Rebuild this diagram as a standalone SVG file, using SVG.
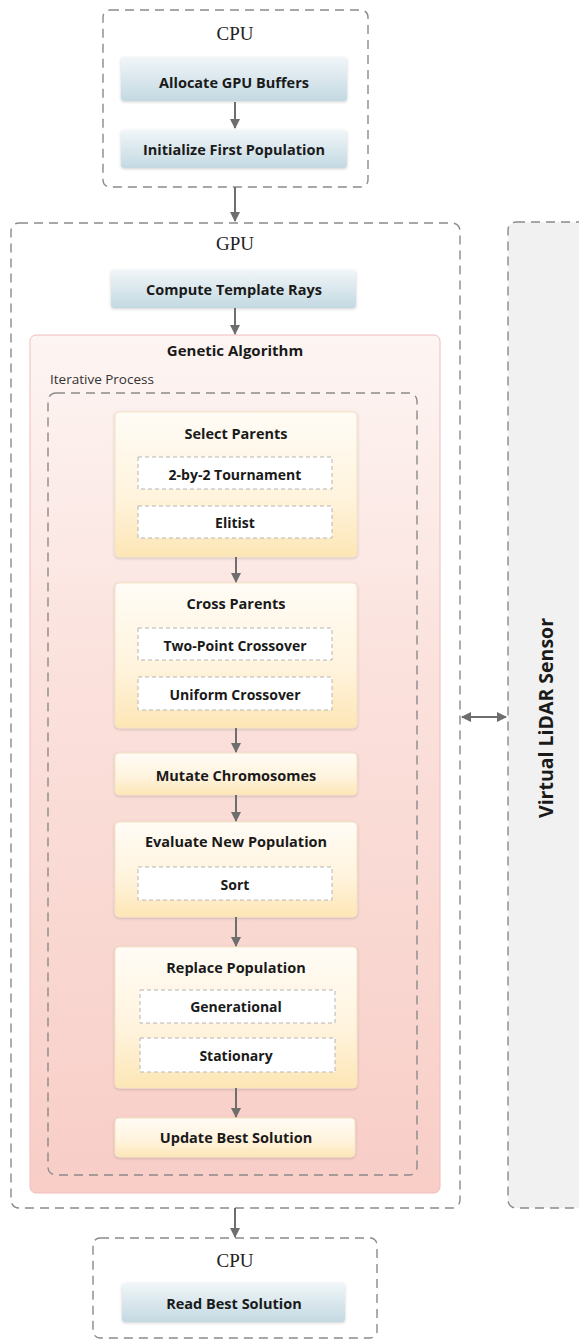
<svg xmlns="http://www.w3.org/2000/svg" width="579" height="1339" viewBox="0 0 579 1339">
<defs>
<linearGradient id="gBlue" x1="0" y1="0" x2="0" y2="1">
<stop offset="0" stop-color="#f1f6f8"/><stop offset="1" stop-color="#c3d9e2"/>
</linearGradient>
<linearGradient id="gPink" x1="0" y1="0" x2="0" y2="1">
<stop offset="0" stop-color="#fdf5f3"/><stop offset="0.4" stop-color="#fbe1dc"/><stop offset="1" stop-color="#f8cec7"/>
</linearGradient>
<linearGradient id="gCream" x1="0" y1="0" x2="0" y2="1">
<stop offset="0" stop-color="#fffcf6"/><stop offset="0.6" stop-color="#fff3dc"/><stop offset="1" stop-color="#fde6b5"/>
</linearGradient>
<filter id="sh" x="-10%" y="-10%" width="120%" height="130%">
<feDropShadow dx="0" dy="1" stdDeviation="1.5" flood-color="#000" flood-opacity="0.18"/>
</filter>
<marker id="ah" viewBox="0 0 10 10" refX="9" refY="5" markerWidth="5" markerHeight="5" orient="auto-start-reverse" markerUnits="strokeWidth">
<path d="M0,0 L10,5 L0,10 z" fill="#6e6e6e"/>
</marker>
<style>
.dash{fill:none;stroke:#8a8a8a;stroke-width:1.4;stroke-dasharray:9 6}
.sub{fill:#ffffff;stroke:#b5b5b5;stroke-width:1;stroke-dasharray:4 3}
.blue{fill:url(#gBlue);filter:url(#sh)}
.cream{fill:url(#gCream);stroke:#f3e3c4;stroke-width:1;filter:url(#sh)}
.serif{font-family:"Liberation Serif","DejaVu Serif",serif;font-size:19px;fill:#222;text-anchor:middle}
.b{font-family:"Open Sans","Noto Sans","DejaVu Sans",sans-serif;font-weight:700;font-size:14.5px;fill:#1a1a1a;text-anchor:middle}
.s{font-family:"Open Sans","Noto Sans","DejaVu Sans",sans-serif;font-weight:700;font-size:14px;fill:#1a1a1a;text-anchor:middle}
.t{font-family:"Open Sans","Noto Sans","DejaVu Sans",sans-serif;font-weight:700;font-size:14.5px;fill:#1a1a1a;text-anchor:middle}
.r{font-family:"Open Sans","Noto Sans","DejaVu Sans",sans-serif;font-size:13.5px;fill:#333}
.c{stroke:#6e6e6e;stroke-width:2;fill:none}
</style>
</defs>
<rect width="579" height="1339" fill="#ffffff"/>

<g id="lidar">
<rect x="508" y="222" width="80" height="986" rx="8" fill="#f1f1f1" stroke="#8a8a8a" stroke-width="1.4" stroke-dasharray="9 6"/>
<text x="0" y="0" transform="translate(553,718) rotate(-90)" class="t" style="font-size:19.5px">Virtual LiDAR Sensor</text>
</g>

<g id="cpu-top">
<rect x="103" y="10" width="265" height="177" rx="7" class="dash"/>
<text x="235" y="40" class="serif">CPU</text>
</g>
<g id="allocate">
<rect x="121" y="57" width="226" height="44" rx="3" class="blue"/>
<text x="234" y="88" class="b">Allocate GPU Buffers</text>
</g>
<g id="initialize">
<rect x="121" y="130" width="226" height="38" rx="3" class="blue"/>
<text x="234" y="155" class="b">Initialize First Population</text>
</g>

<g id="gpu">
<rect x="11" y="223" width="449" height="985" rx="8" class="dash"/>
<text x="235" y="250" class="serif">GPU</text>
</g>
<g id="template">
<rect x="111" y="270" width="245" height="38" rx="3" class="blue"/>
<text x="234" y="295" class="b">Compute Template Rays</text>
</g>

<g id="genetic">
<rect x="30" y="335" width="410" height="858" rx="6" fill="url(#gPink)" stroke="#f1bcbc" stroke-width="1"/>
<text x="235" y="356" class="t" style="font-size:15px">Genetic Algorithm</text>
</g>
<g id="iterative">
<text x="50" y="384" class="r">Iterative Process</text>
<rect x="48" y="393" width="369" height="782" rx="8" class="dash"/>
</g>

<g id="select">
<rect x="115" y="412" width="242" height="145" rx="4" class="cream"/>
<text x="236" y="439" class="t">Select Parents</text>
<rect x="138" y="457" width="194" height="32" class="sub"/>
<text x="235" y="480" class="s">2-by-2 Tournament</text>
<rect x="138" y="506" width="194" height="32" class="sub"/>
<text x="235" y="528" class="s">Elitist</text>
</g>

<g id="cross">
<rect x="115" y="583" width="242" height="145" rx="4" class="cream"/>
<text x="236" y="609" class="t">Cross Parents</text>
<rect x="138" y="628" width="194" height="32" class="sub"/>
<text x="235" y="651" class="s">Two-Point Crossover</text>
<rect x="138" y="677" width="194" height="33" class="sub"/>
<text x="235" y="700" class="s">Uniform Crossover</text>
</g>

<g id="mutate">
<rect x="115" y="753" width="242" height="42" rx="4" class="cream"/>
<text x="236" y="781" class="t">Mutate Chromosomes</text>
</g>

<g id="evaluate">
<rect x="115" y="822" width="242" height="95" rx="4" class="cream"/>
<text x="236" y="847" class="t">Evaluate New Population</text>
<rect x="138" y="867" width="194" height="33" class="sub"/>
<text x="235" y="890" class="s">Sort</text>
</g>

<g id="replace">
<rect x="115" y="947" width="242" height="141" rx="4" class="cream"/>
<text x="236" y="973" class="t">Replace Population</text>
<rect x="140" y="990" width="195" height="33" class="sub"/>
<text x="236" y="1012" class="s">Generational</text>
<rect x="140" y="1038" width="195" height="34" class="sub"/>
<text x="236" y="1061" class="s">Stationary</text>
</g>

<g id="update">
<rect x="115" y="1118" width="240" height="39" rx="4" class="cream"/>
<text x="236" y="1143" class="t">Update Best Solution</text>
</g>

<g id="cpu-bottom">
<rect x="93" y="1238" width="284" height="100" rx="7" class="dash"/>
<text x="235" y="1267" class="serif">CPU</text>
</g>
<g id="read">
<rect x="122" y="1283" width="223" height="39" rx="3" class="blue"/>
<text x="234" y="1309" class="b">Read Best Solution</text>
</g>

<g id="connectors">
<line x1="235" y1="102" x2="235" y2="128" class="c" marker-end="url(#ah)"/>
<line x1="235" y1="187" x2="235" y2="221" class="c" marker-end="url(#ah)"/>
<line x1="235" y1="308" x2="235" y2="334" class="c" marker-end="url(#ah)"/>
<line x1="236" y1="557" x2="236" y2="582" class="c" marker-end="url(#ah)"/>
<line x1="236" y1="728" x2="236" y2="752" class="c" marker-end="url(#ah)"/>
<line x1="236" y1="795" x2="236" y2="821" class="c" marker-end="url(#ah)"/>
<line x1="236" y1="917" x2="236" y2="946" class="c" marker-end="url(#ah)"/>
<line x1="236" y1="1088" x2="236" y2="1117" class="c" marker-end="url(#ah)"/>
<line x1="235" y1="1208" x2="235" y2="1237" class="c" marker-end="url(#ah)"/>
<line x1="462" y1="717" x2="506" y2="717" class="c" marker-start="url(#ah)" marker-end="url(#ah)"/>
</g>
</svg>
